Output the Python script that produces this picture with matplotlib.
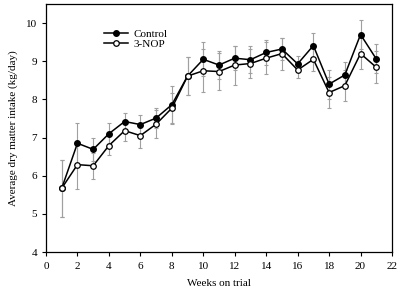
import matplotlib
matplotlib.use("Agg")
import matplotlib.pyplot as plt
import numpy as np

plt.rcParams['font.family'] = ['Liberation Serif', 'DejaVu Serif']

weeks = list(range(1, 22))
control = [5.67, 6.85, 6.69, 7.10, 7.42, 7.34, 7.51, 7.86, 8.61, 9.05, 8.90, 9.08, 9.04,
           9.23, 9.32, 8.93, 9.41, 8.40, 8.64, 9.70, 9.06]
nop = [5.67, 6.29, 6.26, 6.79, 7.18, 7.05, 7.35, 7.77, 8.61, 8.75, 8.73, 8.90, 8.94,
       9.08, 9.20, 8.77, 9.05, 8.18, 8.36, 9.20, 8.84]
control_err = [0.75, 0.52, 0.30, 0.28, 0.23, 0.26, 0.26, 0.50, 0.50, 0.45, 0.37, 0.32, 0.36,
               0.32, 0.30, 0.21, 0.34, 0.38, 0.35, 0.37, 0.38]
nop_err = [0.75, 0.63, 0.34, 0.26, 0.28, 0.32, 0.37, 0.40, 0.50, 0.56, 0.49, 0.51, 0.39,
           0.42, 0.42, 0.20, 0.30, 0.40, 0.41, 0.40, 0.42]

fig = plt.figure(figsize=(4.0, 2.95), dpi=100)
ax = fig.add_axes([46/400, 1 - 252/295, (392-46)/400, (252-4)/295])

ecol = '#a0a0a0'
ax.errorbar(weeks, control, yerr=control_err, fmt='none', ecolor=ecol, elinewidth=0.8,
            capsize=1.5, capthick=0.8, zorder=1)
ax.errorbar(weeks, nop, yerr=nop_err, fmt='none', ecolor=ecol, elinewidth=0.8,
            capsize=1.5, capthick=0.8, zorder=1)
ax.plot(weeks, control, '-o', color='black', markerfacecolor='black', markeredgecolor='black',
        markersize=4, linewidth=1.1, label='Control', zorder=3)
ax.plot(weeks, nop, '-o', color='black', markerfacecolor='white', markeredgecolor='black',
        markersize=4, markeredgewidth=0.9, linewidth=1.1, label='3-NOP', zorder=4)

ax.set_xlim(0, 22)
ax.set_ylim(4, 10.5)
ax.set_xticks(range(0, 23, 2))
ax.set_yticks(range(4, 11))
ax.tick_params(direction='out', length=3, labelsize=8, width=0.8)
ax.tick_params(axis='x', pad=4)
ax.set_xlabel('Weeks on trial', fontsize=8, labelpad=6)
ax.set_ylabel('Average dry matter intake (kg/day)', fontsize=8, labelpad=6)
for s in ax.spines.values():
    s.set_linewidth(0.9)

ax.legend(loc='upper left', bbox_to_anchor=(0.145, 0.93), frameon=False, fontsize=8,
          handlelength=2.2, handletextpad=0.5, labelspacing=0.05, borderpad=0.2)

fig.savefig('out.png', dpi=100)
